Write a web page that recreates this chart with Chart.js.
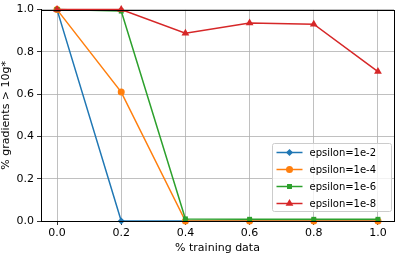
<!DOCTYPE html>
<html>
<head>
<meta charset="utf-8">
<script src="https://cdn.jsdelivr.net/npm/chart.js@4"></script>
<style>
  html, body { margin: 0; padding: 0; background: #fff; }
  #wrap { width: 399px; height: 256px; }
</style>
</head>
<body>
<div id="wrap"><canvas id="chart" width="399" height="256"></canvas></div>
<script>
// data
var trainFrac = [0.0, 0.2, 0.4, 0.6, 0.8, 1.0];
var eps2 = [1.0, 0.0, 0.0, 0.0, 0.0, 0.0];
var eps4 = [1.0, 0.61, 0.0, 0.0, 0.0, 0.0];
var eps6 = [1.0, 0.993, 0.01, 0.008, 0.008, 0.008];
var eps8 = [1.0, 1.0, 0.888, 0.937, 0.931, 0.707];
var xTicks = [0.0, 0.2, 0.4, 0.6, 0.8, 1.0];
var yTicks = [0.0, 0.2, 0.4, 0.6, 0.8, 1.0];
var seriesNames = ['epsilon=1e-2', 'epsilon=1e-4', 'epsilon=1e-6', 'epsilon=1e-8'];

var FONT = 'DejaVu Sans';

function pts(ys) {
  return trainFrac.map(function (x, i) { return {x: x, y: ys[i]}; });
}

function series(label, ys, color, style, radius, order) {
  return {
    label: label,
    data: pts(ys),
    borderColor: color,
    backgroundColor: color,
    borderWidth: 1.5,
    pointStyle: style,
    pointRadius: radius,
    pointBorderWidth: 0,
    pointHoverRadius: radius,
    tension: 0,
    order: order,
    clip: false
  };
}

// legend box + frame, drawn like matplotlib's
var mplExtras = {
  id: 'mplExtras',
  afterDatasetsDraw: function (chart) {
    var ctx = chart.ctx, a = chart.chartArea;
    ctx.save();
    ctx.strokeStyle = '#000';
    ctx.lineWidth = 1;
    ctx.strokeRect(Math.round(a.left) + 0.5, Math.round(a.top) + 0.5,
      Math.round(a.right - a.left), Math.round(a.bottom - a.top));

    var bx = 272.5, by = 143.5, bw = 119, bh = 68;
    ctx.fillStyle = 'rgba(255,255,255,0.8)';
    ctx.strokeStyle = '#cccccc';
    ctx.lineWidth = 1;
    ctx.beginPath();
    ctx.roundRect ? ctx.roundRect(bx, by, bw, bh, 2) : ctx.rect(bx, by, bw, bh);
    ctx.fill();
    ctx.stroke();

    ctx.font = '10px "' + FONT + '"';
    ctx.textBaseline = 'middle';
    [0, 1, 2, 3].forEach(function (i, row) {
      var ds = chart.data.datasets[i];
      var cy = by + 9 + row * 17;
      ctx.strokeStyle = ds.borderColor;
      ctx.lineWidth = 1.5;
      ctx.beginPath();
      ctx.moveTo(bx + 4, cy);
      ctx.lineTo(bx + 30, cy);
      ctx.stroke();
      ctx.fillStyle = ds.backgroundColor;
      Chart.helpers.drawPoint(ctx, {pointStyle: ds.pointStyle, radius: ds.pointRadius, borderWidth: 0, rotation: 0},
        bx + 17, cy);
      ctx.fillStyle = '#000';
      ctx.fillText(seriesNames[i], bx + 37, cy + 1);
    });
    ctx.restore();
  }
};

new Chart(document.getElementById('chart').getContext('2d'), {
  type: 'line',
  data: {
    datasets: [
      series(seriesNames[0], eps2, '#1f77b4', 'rectRot', 3.5, 4),
      series(seriesNames[1], eps4, '#ff7f0e', 'circle', 3.5, 3),
      series(seriesNames[2], eps6, '#2ca02c', 'rect', 3.5, 2),
      series(seriesNames[3], eps8, '#d62728', 'triangle', 4.5, 1)
    ]
  },
  options: {
    responsive: false,
    animation: false,
    layout: { padding: { top: 5, right: 5, left: 0, bottom: 0 } },
    plugins: {
      legend: { display: false },
      tooltip: { enabled: false }
    },
    scales: {
      x: {
        type: 'linear',
        min: -0.05,
        max: 1.05,
        afterBuildTicks: function (s) { s.ticks = xTicks.map(function (v) { return {value: v}; }); },
        afterFit: function (s) { s.height = 35; },
        ticks: {
          color: '#000',
          font: { family: FONT, size: 11 },
          padding: 2,
          maxRotation: 0,
          callback: function (v) { return v.toFixed(1); }
        },
        grid: { color: '#b0b0b0', lineWidth: 0.8, tickLength: 4, tickColor: '#000' },
        border: { color: '#000', width: 1 },
        title: {
          display: true,
          text: '% training data',
          color: '#000',
          font: { family: FONT, size: 11 },
          padding: { top: 0, bottom: 1 }
        }
      },
      y: {
        min: 0,
        max: 1,
        afterBuildTicks: function (s) { s.ticks = yTicks.map(function (v) { return {value: v}; }); },
        afterFit: function (s) { s.width = 41; },
        ticks: {
          color: '#000',
          font: { family: FONT, size: 11 },
          padding: 3,
          callback: function (v) { return v.toFixed(1); }
        },
        grid: { color: '#b0b0b0', lineWidth: 0.8, tickLength: 4, tickColor: '#000' },
        border: { color: '#000', width: 1 },
        title: {
          display: true,
          text: '% gradients > 10g*',
          color: '#000',
          font: { family: FONT, size: 11 },
          padding: { top: 0, bottom: 0 }
        }
      }
    }
  },
  plugins: [mplExtras]
});
</script>
</body>
</html>
